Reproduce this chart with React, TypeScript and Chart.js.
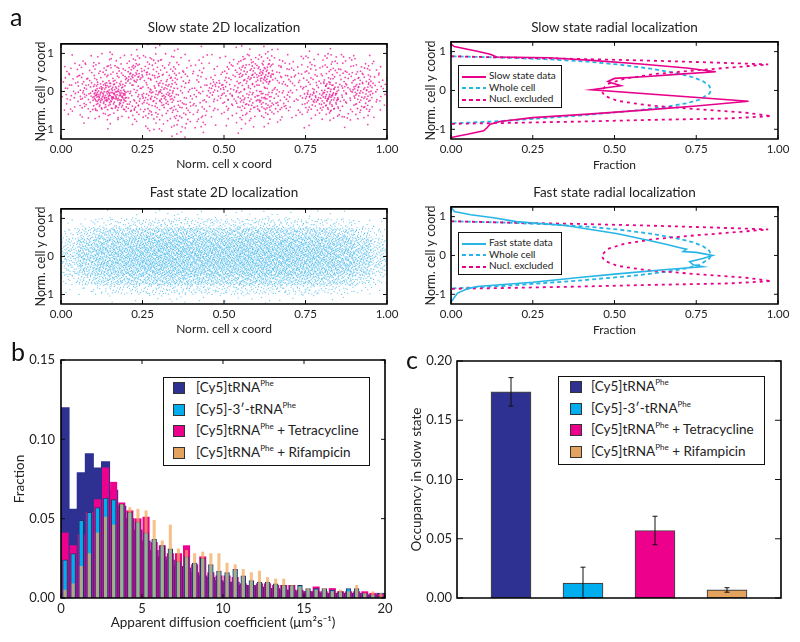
import React, { useEffect, useRef } from "react";
import { Chart, registerables } from "chart.js";

Chart.register(...registerables);

const FONT = "Lato, 'Open Sans', sans-serif";
Chart.defaults.font.family = FONT;
Chart.defaults.color = "#222";

// ---------------- Panel a : 2D localization (points per cell) ----------------
// rows = y bands from top [1.0,1.25] down to [-1.25,-1.0]; columns = x bands of width 0.05
const cellTopY = [1.25, 1.0, 0.75, 0.5, 0.25, 0.0, -0.25, -0.5, -0.75, -1.0];
const cellLeftX = [0, 0.05, 0.1, 0.15, 0.2, 0.25, 0.3, 0.35, 0.4, 0.45, 0.5, 0.55, 0.6, 0.65, 0.7, 0.75, 0.8, 0.85, 0.9, 0.95];
const slowCounts = [
  [0, 0, 0, 1, 1, 2, 2, 1, 1, 0, 1, 2, 3, 1, 0, 1, 1, 0, 0, 0],
  [1, 2, 4, 5, 6, 8, 6, 4, 3, 2, 4, 10, 8, 4, 3, 5, 8, 6, 2, 1],
  [4, 7, 9, 10, 14, 10, 8, 6, 5, 4, 9, 14, 18, 8, 6, 7, 9, 7, 9, 3],
  [6, 9, 10, 12, 22, 14, 11, 9, 6, 5, 10, 16, 26, 10, 8, 8, 10, 10, 12, 6],
  [7, 12, 26, 24, 10, 10, 18, 8, 8, 18, 10, 12, 10, 8, 8, 10, 20, 14, 18, 9],
  [7, 14, 42, 42, 12, 20, 20, 8, 8, 10, 12, 14, 20, 10, 7, 22, 30, 10, 18, 7],
  [4, 9, 20, 20, 16, 10, 14, 12, 8, 5, 10, 14, 16, 12, 5, 14, 18, 7, 13, 4],
  [2, 4, 7, 6, 6, 12, 7, 9, 7, 3, 5, 7, 7, 5, 4, 4, 6, 8, 6, 1],
  [0, 1, 1, 1, 2, 4, 5, 6, 5, 1, 2, 4, 2, 1, 1, 1, 1, 1, 1, 0],
  [0, 0, 0, 0, 0, 1, 2, 3, 1, 0, 1, 0, 0, 0, 0, 0, 0, 0, 0, 0],
];
const fastCounts = [
  [0, 0, 1, 1, 2, 2, 3, 3, 2, 2, 2, 2, 3, 2, 2, 2, 1, 1, 0, 0],
  [2, 6, 12, 15, 17, 19, 20, 20, 19, 19, 19, 20, 20, 19, 17, 17, 15, 12, 6, 2],
  [10, 26, 40, 45, 48, 50, 52, 52, 50, 50, 50, 52, 52, 50, 48, 46, 44, 38, 26, 10],
  [22, 45, 56, 60, 64, 68, 70, 70, 68, 68, 68, 70, 70, 68, 66, 64, 60, 56, 45, 22],
  [30, 52, 64, 68, 72, 76, 76, 76, 74, 74, 74, 76, 76, 74, 72, 72, 68, 64, 52, 30],
  [30, 52, 64, 68, 72, 76, 76, 76, 74, 74, 74, 76, 76, 74, 72, 72, 68, 64, 52, 30],
  [22, 45, 56, 60, 64, 68, 70, 70, 68, 68, 68, 70, 70, 68, 66, 64, 60, 56, 45, 22],
  [10, 26, 40, 45, 48, 50, 52, 52, 50, 50, 50, 52, 52, 50, 48, 46, 44, 38, 26, 10],
  [2, 6, 12, 15, 17, 19, 20, 20, 19, 19, 19, 20, 20, 19, 17, 17, 15, 12, 6, 2],
  [0, 0, 1, 1, 2, 2, 3, 3, 2, 2, 2, 2, 3, 2, 2, 2, 1, 1, 0, 0],
];

// radial profiles (fraction, norm. y coord)
const slowDataFrac = [0, 0.01, 0.08, 0.12, 0.14, 0.3, 0.42, 0.58, 0.72, 0.81, 0.7, 0.6, 0.5, 0.48, 0.49, 0.52, 0.43, 0.91, 0.75, 0.6, 0.42, 0.25, 0.15, 0.12, 0.11, 0.1, 0.05, 0];
const slowDataY = [1.2, 1.13, 1.01, 0.93, 0.86, 0.84, 0.78, 0.68, 0.58, 0.48, 0.42, 0.36, 0.31, 0.23, 0.2, 0.12, 0.02, -0.28, -0.4, -0.5, -0.61, -0.7, -0.8, -0.87, -0.96, -1.04, -1.13, -1.21];
const fastDataFrac = [0, 0.01, 0.06, 0.13, 0.2, 0.35, 0.51, 0.62, 0.66, 0.7, 0.72, 0.71, 0.75, 0.8, 0.77, 0.73, 0.74, 0.77, 0.66, 0.5, 0.4, 0.25, 0.08, 0.05, 0.02, 0];
const fastDataY = [1.25, 1.13, 1.05, 0.97, 0.87, 0.77, 0.56, 0.36, 0.28, 0.2, 0.16, 0.1, 0.08, 0.0, -0.08, -0.16, -0.24, -0.29, -0.36, -0.48, -0.56, -0.69, -0.8, -0.86, -0.97, -1.2];
const wholeCellFrac = [0, 0, 0.15, 0.3, 0.42, 0.52, 0.61, 0.68, 0.74, 0.77, 0.79, 0.795, 0.79, 0.76, 0.72, 0.66, 0.56, 0.4, 0.25, 0.15, 0, 0];
const wholeCellY = [1.2, 0.88, 0.85, 0.8, 0.74, 0.66, 0.56, 0.46, 0.34, 0.24, 0.12, 0.0, -0.08, -0.24, -0.33, -0.42, -0.52, -0.64, -0.73, -0.79, -0.85, -1.2];
const nuclExclFrac = [0, 0.15, 0.4, 0.6, 0.8, 0.97, 0.9, 0.75, 0.62, 0.53, 0.48, 0.46, 0.47, 0.51, 0.6, 0.75, 0.9, 0.98, 0.85, 0.6, 0.4, 0.15, 0];
const nuclExclY = [0.88, 0.85, 0.81, 0.77, 0.72, 0.67, 0.62, 0.52, 0.42, 0.3, 0.17, 0.0, -0.14, -0.27, -0.38, -0.48, -0.57, -0.66, -0.72, -0.76, -0.8, -0.84, -0.86];

const coordTicks = [0, 0.25, 0.5, 0.75, 1];
const yCoordTicks = [-1, 0, 1];

// ---------------- Panel b : histogram ----------------
const binCenters = [0.25, 0.75, 1.25, 1.75, 2.25, 2.75, 3.25, 3.75, 4.25, 4.75, 5.25, 5.75, 6.25, 6.75, 7.25, 7.75, 8.25, 8.75, 9.25, 9.75, 10.25, 10.75, 11.25, 11.75, 12.25, 12.75, 13.25, 13.75, 14.25, 14.75, 15.25, 15.75, 16.25, 16.75, 17.25, 17.75, 18.25, 18.75, 19.25, 19.75];
const tRNAFrac = [0.12, 0.056, 0.079, 0.091, 0.082, 0.086, 0.068, 0.058, 0.05, 0.043, 0.036, 0.03, 0.026, 0.024, 0.02, 0.019, 0.016, 0.014, 0.013, 0.011, 0.01, 0.01, 0.008, 0.008, 0.007, 0.006, 0.006, 0.005, 0.005, 0.004, 0.004, 0.004, 0.003, 0.003, 0.003, 0.003, 0.003, 0.002, 0.002, 0.003];
const threePrimeFrac = [0.024, 0.028, 0.049, 0.054, 0.057, 0.063, 0.062, 0.059, 0.054, 0.048, 0.041, 0.037, 0.033, 0.031, 0.023, 0.026, 0.022, 0.025, 0.021, 0.017, 0.016, 0.018, 0.014, 0.011, 0.01, 0.01, 0.009, 0.008, 0.008, 0.008, 0.006, 0.006, 0.006, 0.005, 0.004, 0.006, 0.006, 0.003, 0.002, 0.001];
const tetracyclineFrac = [0.041, 0.033, 0.04, 0.054, 0.062, 0.082, 0.073, 0.06, 0.055, 0.05, 0.051, 0.035, 0.033, 0.028, 0.028, 0.033, 0.021, 0.026, 0.016, 0.014, 0.014, 0.013, 0.009, 0.008, 0.009, 0.009, 0.008, 0.008, 0.008, 0.005, 0.004, 0.007, 0.004, 0.006, 0.004, 0.004, 0.004, 0.004, 0.003, 0.002];
const rifampicinFrac = [0.005, 0.009, 0.02, 0.028, 0.041, 0.051, 0.046, 0.059, 0.057, 0.056, 0.055, 0.049, 0.036, 0.046, 0.031, 0.03, 0.028, 0.029, 0.028, 0.028, 0.022, 0.021, 0.018, 0.016, 0.017, 0.013, 0.012, 0.012, 0.008, 0.007, 0.006, 0.005, 0.006, 0.004, 0.005, 0.004, 0.008, 0.003, 0.004, 0.003];
const diffTicks = [0, 5, 10, 15, 20];
const fracTicksB = [0, 0.05, 0.1, 0.15];

// ---------------- Panel c : occupancy ----------------
const conditionIndex = [1, 2, 3, 4];
const occupancy = [0.174, 0.0125, 0.057, 0.0068];
const occupancyErr = [0.012, 0.0135, 0.012, 0.0019];
const occTicks = [0, 0.05, 0.1, 0.15, 0.2];

const NAVY = "#2E3192";
const CYAN = "#00AEEF";
const MAGENTA = "#EC008C";
const ORANGE = "#E3A25E";
const LINE_CYAN = "#27B5E6";
const LINE_MAG = "#E8008A";
const condColors = [NAVY, CYAN, MAGENTA, ORANGE];

// ---------------- helpers ----------------
function halton(i: number, b: number) {
  let f = 1, r = 0;
  while (i > 0) { f /= b; r += f * (i % b); i = Math.floor(i / b); }
  return r;
}
// spreads each cell's count evenly over the cell (quasi-uniform placement)
function cloud(counts: number[][]) {
  const pts: { x: number; y: number }[] = [];
  counts.forEach((row, r) =>
    row.forEach((n, c) => {
      const start = (r * 20 + c) * 101 + 17;
      for (let k = 0; k < n; k++) {
        pts.push({ x: cellLeftX[c] + halton(start + k, 2) * 0.05, y: cellTopY[r] - halton(start + k, 3) * 0.25 });
      }
    })
  );
  return pts;
}
const zipXY = (xs: number[], ys: number[]) => xs.map((x, i) => ({ x, y: ys[i] }));

function drawFrame(chart: any, opts: any) {
  const { ctx, chartArea: a, scales } = chart;
  const len = (opts && opts.len) || 4;
  ctx.save();
  ctx.globalAlpha = 1;
  ctx.globalCompositeOperation = "source-over";
  ctx.setLineDash([]);
  ctx.strokeStyle = "#111";
  ctx.lineWidth = 1;
  ctx.beginPath();
  if (opts && opts.x) {
    for (const t of scales.x.ticks) {
      const p = scales.x.getPixelForValue(t.value);
      ctx.moveTo(p, a.bottom); ctx.lineTo(p, a.bottom - len);
      ctx.moveTo(p, a.top); ctx.lineTo(p, a.top + len);
    }
  }
  if (opts && opts.y) {
    for (const t of scales.y.ticks) {
      const p = scales.y.getPixelForValue(t.value);
      ctx.moveTo(a.left, p); ctx.lineTo(a.left + len, p);
      ctx.moveTo(a.right, p); ctx.lineTo(a.right - len, p);
    }
  }
  ctx.stroke();
  ctx.lineWidth = 1.6;
  ctx.strokeStyle = "#000";
  ctx.beginPath();
  ctx.rect(a.left, a.top, a.right - a.left, a.bottom - a.top);
  ctx.stroke();
  ctx.restore();
}

const framePlugin = {
  id: "frame",
  afterDraw(chart: any, _a: any, opts: any) {
    drawFrame(chart, opts);
  },
};

const errorBarPlugin = {
  id: "errbars",
  afterDatasetsDraw(chart: any) {
    const { ctx, scales } = chart;
    const meta = chart.getDatasetMeta(0);
    ctx.save();
    ctx.strokeStyle = "#111";
    ctx.lineWidth = 1;
    ctx.beginPath();
    occupancy.forEach((v, i) => {
      const x = meta.data[i].x;
      const top = scales.y.getPixelForValue(v + occupancyErr[i]);
      const bot = scales.y.getPixelForValue(Math.max(0, v - occupancyErr[i]));
      ctx.moveTo(x, top); ctx.lineTo(x, bot);
      ctx.moveTo(x - 2.5, top); ctx.lineTo(x + 2.5, top);
      ctx.moveTo(x - 2.5, bot); ctx.lineTo(x + 2.5, bot);
    });
    ctx.stroke();
    ctx.restore();
  },
};

type AxisSpec = {
  min: number; max: number; ticks: number[]; fmt: (v: number) => string;
  size: number; tickSize: number; tickPad: number; showLabels?: boolean;
  title?: string; titleSize?: number; titlePad?: number;
};

function axis(spec: AxisSpec, which: "x" | "y") {
  return {
    type: "linear",
    position: which === "x" ? "bottom" : "left",
    min: spec.min,
    max: spec.max,
    offset: false,
    grid: { display: false, drawTicks: false, offset: false },
    border: { display: false },
    afterBuildTicks: (s: any) => { s.ticks = spec.ticks.map((v) => ({ value: v })); },
    afterFit: (s: any) => { if (which === "x") s.height = spec.size; else s.width = spec.size; },
    ticks: {
      display: spec.showLabels !== false,
      padding: spec.tickPad,
      font: { size: spec.tickSize },
      color: "#222",
      autoSkip: false,
      maxRotation: 0,
      minRotation: 0,
      callback: (v: any) => spec.fmt(Number(v)),
    },
    title: spec.title
      ? {
          display: true,
          text: spec.title,
          color: "#222",
          font: { size: spec.titleSize },
          padding: which === "x" ? { top: 0, bottom: spec.titlePad } : { top: spec.titlePad, bottom: 0 },
        }
      : { display: false },
  };
}

function baseOptions(x: any, y: any, padTop: number, padRight: number, frame: any) {
  return {
    responsive: false,
    animation: false,
    devicePixelRatio: 1,
    events: [],
    layout: { padding: { top: padTop, right: padRight, left: 0, bottom: 0 } },
    scales: { x, y },
    plugins: { legend: { display: false }, tooltip: { enabled: false }, title: { display: false }, frame },
  };
}

const f2 = (v: number) => v.toFixed(2);
const f0 = (v: number) => (v < 0 ? "-" + String(Math.round(-v)) : String(Math.round(v)));

function ChartCanvas(props: { left: number; top: number; width: number; height: number; make: () => any }) {
  const ref = useRef<HTMLCanvasElement>(null);
  useEffect(() => {
    const chart = new Chart(ref.current as HTMLCanvasElement, props.make());
    return () => chart.destroy();
  }, []);
  return (
    <canvas
      ref={ref}
      width={props.width}
      height={props.height}
      style={{ position: "absolute", left: props.left, top: props.top, width: props.width, height: props.height }}
    />
  );
}

// ---------------- chart configs ----------------
function scatter2D(counts: number[][], color: string, radius: number) {
  return () => ({
    type: "scatter",
    data: { datasets: [{ data: cloud(counts), pointRadius: radius, pointBorderWidth: 0, pointBorderColor: color, backgroundColor: color, pointBackgroundColor: color }] },
    options: baseOptions(
      axis({ min: 0, max: 1, ticks: coordTicks, fmt: f2, size: 36, tickSize: 11.5, tickPad: 3, title: "Norm. cell x coord", titleSize: 12, titlePad: 4 }, "x"),
      axis({ min: -1.25, max: 1.25, ticks: yCoordTicks, fmt: f0, size: 61, tickSize: 11.5, tickPad: 7, title: "Norm. cell y coord", titleSize: 12.5, titlePad: 33 }, "y"),
      6.5, 23, { x: true, y: true, len: 4 }
    ),
    plugins: [framePlugin],
  });
}

function radial(dataFrac: number[], dataY: number[], dataColor: string) {
  return () => ({
    type: "scatter",
    data: {
      datasets: [
        { data: zipXY(dataFrac, dataY), showLine: true, pointRadius: 0, borderColor: dataColor, borderWidth: 1.6, order: 1 },
        { data: zipXY(nuclExclFrac, nuclExclY), showLine: true, pointRadius: 0, borderColor: LINE_MAG, borderWidth: 1.8, borderDash: [3, 4], order: 2 },
        { data: zipXY(wholeCellFrac, wholeCellY), showLine: true, pointRadius: 0, borderColor: LINE_CYAN, borderWidth: 1.8, borderDash: [4, 3], order: 3 },
      ],
    },
    options: baseOptions(
      axis({ min: 0, max: 1, ticks: coordTicks, fmt: f2, size: 36, tickSize: 11.5, tickPad: 3, title: "Fraction", titleSize: 12, titlePad: 3 }, "x"),
      axis({ min: -1.25, max: 1.25, ticks: yCoordTicks, fmt: f0, size: 51, tickSize: 11.5, tickPad: 5, title: "Norm. cell y coord", titleSize: 12.5, titlePad: 23.5 }, "y"),
      6.5, 22, { x: true, y: true, len: 4 }
    ),
    plugins: [framePlugin],
  });
}

const histConfig = () => ({
  type: "bar",
  data: {
    datasets: [
      { data: zipXY(binCenters, rifampicinFrac), backgroundColor: "rgba(242,168,92,0.72)", borderWidth: 0, barThickness: 2.4, grouped: false, order: 1 },
      { data: zipXY(binCenters, threePrimeFrac), backgroundColor: CYAN, borderColor: "#2b3060", borderWidth: 1, barThickness: 4.8, grouped: false, order: 2 },
      { data: zipXY(binCenters, tetracyclineFrac), backgroundColor: MAGENTA, borderWidth: 0, barThickness: 6.4, grouped: false, order: 3 },
      { data: zipXY(binCenters, tRNAFrac), backgroundColor: NAVY, borderWidth: 0, barThickness: 8.4, grouped: false, order: 4 },
    ],
  },
  options: baseOptions(
    axis({ min: 0, max: 20, ticks: diffTicks, fmt: f0, size: 44, tickSize: 13, tickPad: 3, title: "Apparent diffusion coefficient (\u03bcm\u00b2s\u207b\u00b9)", titleSize: 13.5, titlePad: 11 }, "x"),
    axis({ min: 0, max: 0.15, ticks: fracTicksB, fmt: f2, size: 61, tickSize: 13, tickPad: 6, title: "Fraction", titleSize: 13.5, titlePad: 12 }, "y"),
    20, 25, { x: true, y: true, len: 4 }
  ),
  plugins: [framePlugin],
});

const occConfig = () => ({
  type: "bar",
  data: {
    datasets: [
      {
        data: zipXY(conditionIndex, occupancy),
        backgroundColor: condColors,
        borderColor: "#444",
        borderWidth: 1.2,
        borderSkipped: false,
        barThickness: 40,
      },
    ],
  },
  options: baseOptions(
    axis({ min: 0.25, max: 4.75, ticks: [], fmt: f2, size: 44, tickSize: 13, tickPad: 3, showLabels: false }, "x"),
    axis({ min: 0, max: 0.2, ticks: occTicks, fmt: f2, size: 57, tickSize: 13, tickPad: 5, title: "Occupancy in slow state", titleSize: 13.5, titlePad: 9 }, "y"),
    21, 19, { x: false, y: true, len: 6 }
  ),
  plugins: [framePlugin, errorBarPlugin],
});

// ---------------- HTML text ----------------
const conditions = ["[Cy5]tRNA", "[Cy5]-3\u2032-tRNA", "[Cy5]tRNA", "[Cy5]tRNA"];
const conditionSuffix = ["", "", " + Tetracycline", " + Rifampicin"];
const radialSlowLabels = ["Slow state data", "Whole cell", "Nucl. excluded"];
const radialFastLabels = ["Fast state data", "Whole cell", "Nucl. excluded"];

const txt: React.CSSProperties = { position: "absolute", fontFamily: FONT, color: "#222", whiteSpace: "nowrap" };

function Title(props: { cx: number; top: number; text: string }) {
  return (
    <div style={{ ...txt, left: props.cx - 150, width: 300, top: props.top, textAlign: "center", fontSize: 13.5, lineHeight: "16px" }}>
      {props.text}
    </div>
  );
}

function Letter(props: { left: number; top: number; ch: string }) {
  return <div style={{ ...txt, left: props.left, top: props.top, fontSize: 25, lineHeight: "24px", color: "#111" }}>{props.ch}</div>;
}

function lineSample(kind: number, color: string): React.CSSProperties {
  if (kind === 0) return { background: color };
  return { background: `repeating-linear-gradient(to right, ${color} 0 4px, transparent 4px 7px)` };
}

function RadialLegend(props: { left: number; top: number; labels: string[]; dataColor: string }) {
  const colors = [props.dataColor, LINE_CYAN, LINE_MAG];
  return (
    <div style={{ position: "absolute", left: props.left, top: props.top, width: 102, height: 41, border: "1.5px solid #111", background: "#fff" }}>
      {props.labels.map((l, i) => (
        <div key={i}>
          <div style={{ position: "absolute", left: 3, top: 9.5 + i * 11.5, width: 24, height: 2, ...lineSample(i, colors[i]) }} />
          <div style={{ ...txt, left: 30, top: 3 + i * 11.5, fontSize: 10, lineHeight: "13px" }}>{l}</div>
        </div>
      ))}
    </div>
  );
}

function CondLegend(props: { left: number; top: number; swatchLeft: number }) {
  return (
    <div style={{ position: "absolute", left: props.left, top: props.top, width: 205, height: 87, border: "1.5px solid #111", background: "#fff" }}>
      {conditions.map((c, i) => (
        <div key={i}>
          <div style={{ position: "absolute", left: props.swatchLeft, top: 4 + i * 21.7, width: 10, height: 10, background: condColors[i], border: "1px solid #333" }} />
          <div style={{ ...txt, left: 32, top: 1 + i * 21.7, fontSize: 13.5, lineHeight: "16px" }}>
            {c}
            <sup style={{ fontSize: 8, verticalAlign: "6px", lineHeight: 0 }}>Phe</sup>
            {conditionSuffix[i]}
          </div>
        </div>
      ))}
    </div>
  );
}

export default function App() {
  return (
    <div style={{ position: "absolute", left: 0, top: 0, width: 800, height: 642, background: "#fff", overflow: "hidden" }}>
      <ChartCanvas left={0} top={30} width={410} height={145} make={scatter2D(slowCounts, "rgba(236,0,140,0.72)", 0.9)} />
      <ChartCanvas left={0} top={195} width={410} height={145} make={scatter2D(fastCounts, "rgba(30,170,230,0.7)", 0.6)} />
      <ChartCanvas left={400} top={30} width={400} height={145} make={radial(slowDataFrac, slowDataY, LINE_MAG)} />
      <ChartCanvas left={400} top={195} width={400} height={145} make={radial(fastDataFrac, fastDataY, LINE_CYAN)} />
      <ChartCanvas left={0} top={340} width={410} height={302} make={histConfig} />
      <ChartCanvas left={400} top={340} width={400} height={302} make={occConfig} />

      <Letter left={10} top={4} ch="a" />
      <Letter left={11} top={339} ch="b" />
      <Letter left={406} top={347} ch="c" />

      <Title cx={224} top={19} text="Slow state 2D localization" />
      <Title cx={224} top={184} text="Fast state 2D localization" />
      <Title cx={614.5} top={19} text="Slow state radial localization" />
      <Title cx={614.5} top={184} text="Fast state radial localization" />

      <RadialLegend left={458} top={65} labels={radialSlowLabels} dataColor={LINE_MAG} />
      <RadialLegend left={458} top={232} labels={radialFastLabels} dataColor={LINE_CYAN} />

      <CondLegend left={163} top={377} swatchLeft={9} />
      <CondLegend left={558} top={376} swatchLeft={11} />
    </div>
  );
}
